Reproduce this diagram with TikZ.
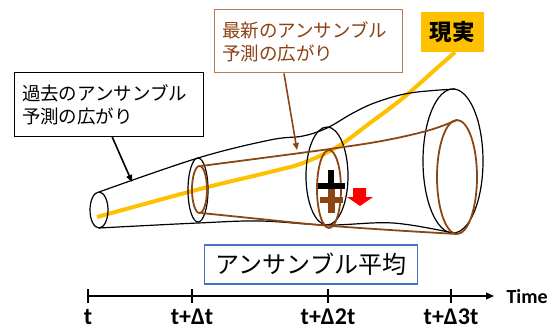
\documentclass[tikz,border=0pt]{standalone}
\usepackage{fontspec}
\newfontfamily\jp{Noto Sans CJK JP}
\newfontfamily\lat{Carlito}
\usetikzlibrary{arrows.meta}
\definecolor{realyellow}{RGB}{255,192,0}
\definecolor{latebrown}{RGB}{140,70,20}
\definecolor{latebox}{RGB}{185,125,85}
\definecolor{latetext}{RGB}{140,65,20}
\definecolor{meanblue}{RGB}{68,114,196}
\definecolor{shiftred}{RGB}{255,0,0}
\tikzset{
  lbox/.style={draw, line width=1pt, fill=white, inner sep=0pt, align=left,
    font=\jp\fontsize{18.5}{23}\selectfont},
  conn/.style={line width=1.6pt, -{Triangle[length=7pt,width=6pt]}},
  blk/.style={line width=1.2pt, black},
  brw/.style={line width=1.8pt, latebrown},
  ticklab/.style={anchor=base, inner sep=0pt, font=\lat\bfseries\fontsize{24}{24}\selectfont},
}
\begin{document}
\begin{tikzpicture}[x=1pt,y=-1pt]
\useasboundingbox (0,0) rectangle (552,329);

% reality line
\node[fill=realyellow, minimum width=63pt, minimum height=40pt, inner sep=0pt,
  font=\jp\bfseries\fontsize{22.5}{24}\selectfont] (real) at (452,32) {現実};
\coordinate (ystart) at (97,217);
\coordinate (yend) at ([xshift=3pt]real.south);
\draw[realyellow, line width=4pt] plot[smooth, tension=0.6] coordinates {(ystart) (200,189) (270,172) (303,163) (337,147) (370,123) (403,98) (437,68) (yend)};

% black (past spread) cone
\draw[blk] (99,210) ellipse [x radius=9pt, y radius=18pt];
\draw[blk] (198,190) ellipse [x radius=10pt, y radius=32pt];
\draw[blk] (327,176) ellipse [x radius=21pt, y radius=49pt];
\draw[blk] (453,161) ellipse [x radius=30pt, y radius=72pt];
\draw[blk] plot[smooth, tension=0.6] coordinates {(99,192) (198,158) (270,140) (303,136) (327,128) (353,113) (377,102) (410,93) (455,89)};
\draw[blk] plot[smooth, tension=0.6] coordinates {(99,228) (198,223) (260,221) (327,225) (393,223) (453,233)};

% brown (latest spread) cone
\draw[brw] (199.5,189.5) ellipse [x radius=7.5pt, y radius=23.5pt];
\draw[brw] (329,189) ellipse [x radius=12pt, y radius=39pt];
\draw[brw] (457,177) ellipse [x radius=20pt, y radius=57pt];
\draw[brw] plot[smooth, tension=0.6] coordinates {(201,166) (270,157) (337,148) (387,140) (430,130) (457,120)};
\draw[brw] plot[smooth, tension=0.6] coordinates {(201,213) (260,219) (320,225) (390,230) (457,234)};

% ensemble means
\fill[black] (318,183) rectangle (345,189);
\fill[black] (328,170) rectangle (334,200);
\fill[latebrown] (320,197) rectangle (343,203);
\fill[latebrown] (328,189) rectangle (335,213);
\fill[shiftred] (353,188) -- (366,188) -- (366,197) -- (373,197) -- (360,206) -- (347,197) -- (353,197) -- cycle;

% labels
\node[lbox, minimum width=189pt, minimum height=63pt, text width=173pt] (old) at (108.5,104.5) {過去のアンサンブル\\予測の広がり};
\node[lbox, draw=latebox, text=latetext, minimum width=188pt, minimum height=63pt, text width=172pt] (new) at (308,41.5) {最新のアンサンブル\\予測の広がり};
\node[draw=meanblue, line width=1.2pt, fill=white, minimum width=213pt, minimum height=39pt, inner sep=0pt,
  font=\jp\fontsize{24}{24}\selectfont] (mean) at (311,264.5) {アンサンブル平均};

\coordinate (oldtip) at (132,182);
\coordinate (newtip) at (297,150);
\draw[conn] ([xshift=3.5pt]old.south) -- (oldtip);
\draw[conn, latebrown] ([xshift=-24pt]new.south) -- (newtip);

% time axis
\coordinate (a0) at (88,296);
\coordinate (a1) at (494,296);
\draw[line width=1.3pt, -{Triangle[length=8pt,width=7pt]}] (a0) -- (a1);
\foreach \x/\lab/\nm in {88/t/t0, 192/t+Δt/t1, 328/t+Δ2t/t2, 451/t+Δ3t/t3}{
  \draw[line width=1.3pt] (\x,289) -- (\x,303);
  \node[ticklab] (\nm) at (\x,324) {\lab};
}
\node[anchor=base west, font=\lat\bfseries\fontsize{20}{20}\selectfont] (time) at (503,303) {Time};
\end{tikzpicture}
\end{document}
